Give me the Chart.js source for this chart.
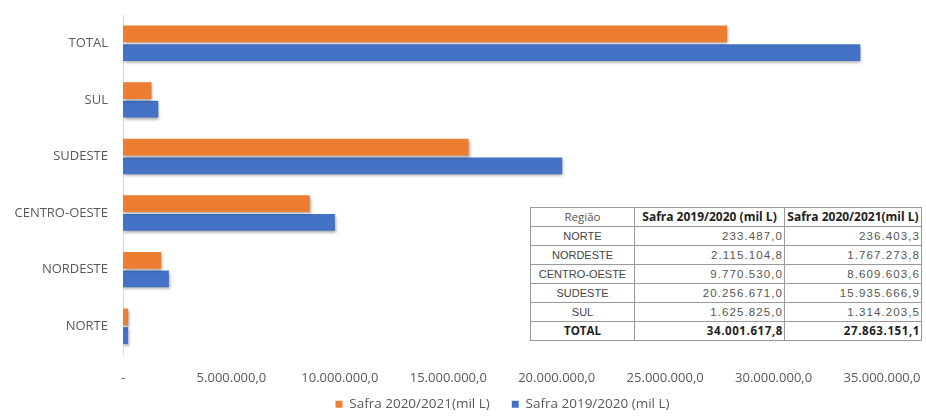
<!DOCTYPE html>
<html>
<head>
<meta charset="utf-8">
<script src="https://cdn.jsdelivr.net/npm/chart.js@4"></script>
<style>
  html, body { margin: 0; padding: 0; background: #fff; }
  #wrap { position: relative; width: 926px; height: 417px; }
  #tbl {
    position: absolute; left: 530px; top: 207px; width: 392px;
    border-collapse: collapse; background: #fff;
    font-family: "Liberation Sans", Arial, sans-serif; font-size: 11px; color: #3a3a3a;
  }
  #tbl td, #tbl th { border: 1px solid #9a9a9a; height: 18px; padding: 0 2px; line-height: 18px; }
  #tbl th { font-family: "Open Sans", sans-serif; font-size: 12px; font-weight: bold; color: #222; white-space: nowrap; }
  #tbl th.reg { font-weight: normal; color: #555; font-size: 11.5px; }
  #tbl td.num { text-align: right; font-size: 11.5px; letter-spacing: 1.1px; padding-right: 1px; color: #555; }
  #tbl td.reg { text-align: center; color: #444; }
  #tbl tr.tot td { font-family: "Open Sans", sans-serif; font-weight: bold; color: #222; font-size: 11.5px; }
  #tbl tr.tot td.num { letter-spacing: 0.6px; }
</style>
</head>
<body>
<div id="wrap">
  <canvas id="chart" width="926" height="417"></canvas>
  <table id="tbl"></table>
</div>
<script>
  // dados na ordem da tabela
  const regioes = ["NORTE", "NORDESTE", "CENTRO-OESTE", "SUDESTE", "SUL", "TOTAL"];
  const safra1920 = [233487.0, 2115104.8, 9770530.0, 20256671.0, 1625825.0, 34001617.8];
  const safra2021 = [236403.3, 1767273.8, 8609603.6, 15935666.9, 1314203.5, 27863151.1];
  const nomeSerie1920 = "Safra 2019/2020 (mil L)";
  const nomeSerie2021 = "Safra 2020/2021(mil L)";
  const tickMax = 35000000;
  const tickStep = 5000000;

  function fmt(v) {
    const neg = v < 0;
    const s = Math.abs(v).toFixed(1).split(".");
    const inteiro = s[0].replace(/\B(?=(\d{3})+(?!\d))/g, ".");
    return (neg ? "-" : "") + inteiro + "," + s[1];
  }

  // tabela
  const tbl = document.getElementById("tbl");
  let html = '<tr><th class="reg" style="width:99px">Região</th><th style="width:145px">' + nomeSerie1920 +
    '</th><th>' + nomeSerie2021 + '</th></tr>';
  regioes.forEach((r, i) => {
    html += '<tr' + (r === "TOTAL" ? ' class="tot"' : '') + '><td class="reg">' + r + '</td><td class="num">' +
      fmt(safra1920[i]) + '</td><td class="num">' + fmt(safra2021[i]) + '</td></tr>';
  });
  tbl.innerHTML = html;

  // sombra nas barras
  const sombra = {
    id: "sombra",
    beforeDatasetsDraw(chart) {
      const ctx = chart.ctx;
      ctx.save();
      ctx.shadowColor = "rgba(0,0,0,0.35)";
      ctx.shadowBlur = 3;
      ctx.shadowOffsetX = 1;
      ctx.shadowOffsetY = 2;
    },
    afterDatasetsDraw(chart) {
      chart.ctx.restore();
    }
  };

  const gray = "#595959";
  new Chart(document.getElementById("chart"), {
    type: "bar",
    data: {
      labels: regioes.slice().reverse(),
      datasets: [
        { label: nomeSerie2021, data: safra2021.slice().reverse(), backgroundColor: "#ED7D31",
          categoryPercentage: 0.66, barPercentage: 0.9 },
        { label: nomeSerie1920, data: safra1920.slice().reverse(), backgroundColor: "#4472C4",
          categoryPercentage: 0.66, barPercentage: 0.9 }
      ]
    },
    options: {
      indexAxis: "y",
      responsive: false,
      animation: false,
      layout: { padding: { top: 15, right: 44, bottom: -4, left: 0 } },
      scales: {
        x: {
          min: 0, max: tickMax,
          grid: { display: false, drawTicks: false },
          border: { display: false },
          ticks: {
            stepSize: tickStep, padding: 16, color: gray, maxRotation: 0,
            font: { family: "Open Sans", size: 13 },
            callback: v => v === 0 ? "-" : fmt(v)
          },
          afterFit: s => { s.height = 35; s.paddingLeft = 0; s.paddingRight = 0; }
        },
        y: {
          grid: { display: false, drawTicks: false },
          border: { display: true, color: "#d9d9d9" },
          ticks: { padding: 15, color: gray, font: { family: "Open Sans", size: 13 } },
          afterFit: s => { s.width = 123; s.paddingTop = 0; s.paddingBottom = 0; }
        }
      },
      plugins: {
        legend: {
          position: "bottom",
          fullSize: false,
          labels: {
            boxWidth: 7, boxHeight: 7, padding: 8, color: gray,
            font: { family: "Open Sans", size: 13.5 },
            generateLabels: chart => Chart.defaults.plugins.legend.labels.generateLabels(chart)
              .map((l, i) => Object.assign(l, { text: i === 0 ? l.text + "    " : l.text }))
          }
        },
        tooltip: { enabled: false }
      }
    },
    plugins: [sombra]
  });
</script>
</body>
</html>
